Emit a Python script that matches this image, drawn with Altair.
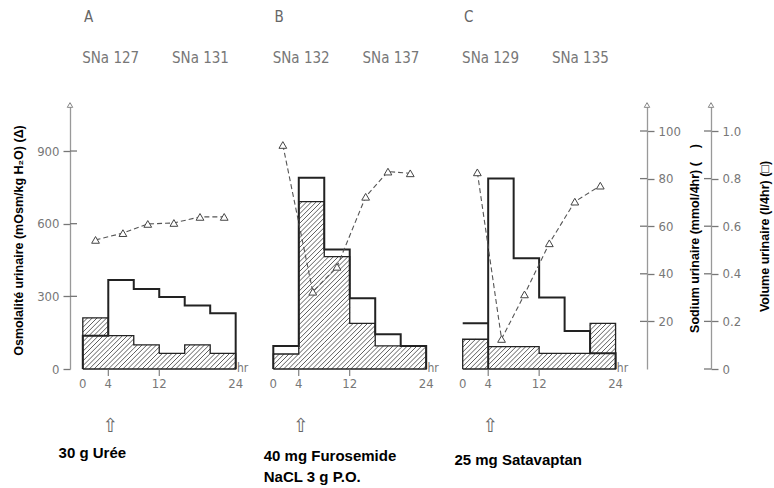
import altair as alt
import pandas as pd

# ---------------- data ----------------
panel_names = ["A", "B", "C"]
interval_start = [0, 4, 8, 12, 16, 20]          # 4-hour collection periods (hr)
x_tick_values = [0, 4, 12, 24]

# urine volume (l/4hr)  -> open outline
vol_A = [0.14, 0.374, 0.336, 0.302, 0.267, 0.234]
vol_B = [0.097, 0.804, 0.502, 0.297, 0.146, 0.097]
vol_C = [0.192, 0.80, 0.465, 0.30, 0.16, 0.066]

# urine sodium (mmol/4hr) -> hatched area
na_A = [21.5, 14.0, 10.1, 6.6, 10.1, 6.6]
na_B = [6.3, 70.3, 47.2, 19.2, 9.7, 9.7]
na_C = [12.5, 9.4, 9.4, 6.6, 6.6, 19.2]

# urine osmolality (mOsm/kg H2O) -> triangles
osm_hr_A = [2.0, 6.3, 10.2, 14.3, 18.4, 22.2]
osm_A = [533, 561, 599, 603, 628, 628]
osm_hr_B = [1.5, 6.2, 10.0, 14.5, 18.0, 21.5]
osm_B = [925, 319, 422, 711, 815, 808]
osm_hr_C = [2.3, 6.1, 9.7, 13.6, 17.6, 21.6]
osm_C = [812, 124, 308, 519, 691, 757]

sna_labels = [["SNa 127", "SNa 131"], ["SNa 132", "SNa 137"], ["SNa 129", "SNa 135"]]
drug_labels = [["30 g Urée"], ["40 mg Furosemide", "NaCL 3 g P.O."], ["25 mg Satavaptan"]]

osm_ticks = [0, 300, 600, 900]
na_ticks = [20, 40, 60, 80, 100]
vol_ticks = [0, 0.2, 0.4, 0.6, 0.8, 1.0]

# ---------------- layout constants ----------------
W, H = 641, 266
PAD = {"left": 70, "top": 103, "right": 63, "bottom": 119}
PX_HR = 6.37                      # px per hour
PX_VOL = 238.0                    # px per l/4hr
PX_NA = PX_VOL / 100.0            # px per mmol/4hr
PX_OSM = 0.2422                   # px per mOsm
XMIN = (70 - 82.8) / PX_HR
XMAX = XMIN + W / PX_HR
X_NA_AXIS = (647 - 82.8) / PX_HR
TICK_IN = 7 / PX_HR
panel_offset = [0.0, (273.3 - 82.8) / PX_HR, (462.7 - 82.8) / PX_HR]
vol_closed_left = [True, True, False]
VOL_DOM = [0, H / PX_VOL]
NA_DOM = [0, H / PX_NA]
OSM_DOM = [0, H / PX_OSM]

NARROW = "Liberation Sans Narrow, Arial Narrow, DejaVu Sans Condensed, sans-serif"
BOLD = "Liberation Sans, Arial, sans-serif"
TITLE_SIZE = 12.5

vols = [vol_A, vol_B, vol_C]
nas = [na_A, na_B, na_C]
osm_hrs = [osm_hr_A, osm_hr_B, osm_hr_C]
osms = [osm_A, osm_B, osm_C]

# ---------------- tables built from the arrays ----------------
def step_path(values, closed_left=True):
    pts = [(0, 0.0)] if closed_left else []
    for i, (s, v) in enumerate(zip(interval_start, values)):
        pts.append((s, v))
        pts.append((s + 4, v))
        if i == 0 and not closed_left:
            pts.append((s + 4, 0.0))   # first period drawn as a lone level line
    pts.append((24, 0.0))
    return pts

vol_rows, na_rows = [], []
for p, name in enumerate(panel_names):
    off = panel_offset[p]
    for k, (h, v) in enumerate(step_path(vols[p], vol_closed_left[p])):
        vol_rows.append({"panel": name, "ord": k, "x": off + h, "v": v})
    pts = step_path(nas[p])
    pts.append((0, 0.0))
    for k, (h, v) in enumerate(pts):
        na_rows.append({"panel": name, "ord": k, "x": off + h, "na": v})
vol_df = pd.DataFrame(vol_rows)
na_df = pd.DataFrame(na_rows)

# diagonal hatching of the sodium areas (clipped to each period's rectangle)
SP = 4.8
hatch_rows = []
for p, name in enumerate(panel_names):
    off = panel_offset[p]
    na = nas[p]
    c = -max(na) * PX_NA
    while c < 24 * PX_HR:
        for s, val in zip(interval_start, na):
            x0, x1, h = s * PX_HR, (s + 4) * PX_HR, val * PX_NA
            lo, hi = max(x0, c), min(x1, c + h)
            if hi > lo:
                hatch_rows.append({"x": off + lo / PX_HR, "x2": off + hi / PX_HR,
                                   "y": (lo - c) / PX_NA, "y2": (hi - c) / PX_NA})
        c += SP
hatch_df = pd.DataFrame(hatch_rows)

osm_rows = []
for p, name in enumerate(panel_names):
    for h, o in zip(osm_hrs[p], osms[p]):
        osm_rows.append({"panel": name, "x": panel_offset[p] + h, "osm": o})
osm_df = pd.DataFrame(osm_rows)

tick_rows = []
for p in range(3):
    for t in x_tick_values:
        tick_rows.append({"x": panel_offset[p] + t, "label": str(t)})
tick_df = pd.DataFrame(tick_rows)
minor_df = pd.DataFrame([{"x": panel_offset[p] + t} for p in range(3) for t in (4, 12)])
hr_df = pd.DataFrame([{"x": panel_offset[p] + 24.2, "label": "hr"} for p in range(3)])

letter_df = pd.DataFrame([{"x": panel_offset[p] + 0.2, "label": panel_names[p]} for p in range(3)])
sna_df = pd.DataFrame([{"x": panel_offset[p] + h, "label": sna_labels[p][i]}
                       for p in range(3) for i, h in enumerate((-0.1, 14.0))])
arrow_df = pd.DataFrame([{"x": panel_offset[p] + 4.3, "label": "⇧"} for p in range(3)])
drug_rows = []
drug_x = [-3.8, -1.5, -1.3]
drug_y = [[350], [353, 374], [357]]
for p in range(3):
    for i, lab in enumerate(drug_labels[p]):
        drug_rows.append({"x": panel_offset[p] + drug_x[p], "label": lab, "py": drug_y[p][i]})
drug_df = pd.DataFrame(drug_rows)

axis_top_df = pd.DataFrame({"x": [XMIN, X_NA_AXIS, XMAX]})
osm_tick_df = pd.DataFrame({"x": XMIN, "x2": XMIN + TICK_IN, "y": [t for t in osm_ticks if t > 0]})
na_tick_df = pd.DataFrame({"x": X_NA_AXIS - TICK_IN, "x2": X_NA_AXIS, "y": na_ticks})
vol_tick_df = pd.DataFrame({"x": XMAX - TICK_IN, "x2": XMAX, "y": vol_ticks})

# ---------------- encodings ----------------
xs = alt.Scale(domain=[XMIN, XMAX], nice=False, zero=False)
X = alt.X("x:Q", scale=xs, axis=None)

def axis(orient, values, title, title_x, title_y, offset=0, label_expr=None):
    kw = dict(orient=orient, offset=offset, values=values, tickSize=7,
              tickColor="#777", tickWidth=1.3, domainColor="#999", domainWidth=1.3,
              labelColor="#777", labelFont=NARROW, labelFontSize=13,
              labelPadding=4, grid=False, title=title, titleFont=BOLD,
              titleFontSize=TITLE_SIZE, titleFontWeight="bold", titleColor="black",
              titleAngle=270, titleX=title_x, titleY=title_y, titleAlign="center",
              titleBaseline="middle")
    if label_expr:
        kw["labelExpr"] = label_expr
    return alt.Axis(**kw)

hatch = alt.Chart(hatch_df).mark_rule(color="#333", strokeWidth=0.8).encode(
    x=X, x2="x2:Q",
    y=alt.Y("y:Q", scale=alt.Scale(domain=NA_DOM, nice=False), axis=None),
    y2="y2:Q",
)

na_line = alt.Chart(na_df).mark_line(color="#222", strokeWidth=1.3).encode(
    x=X,
    y=alt.Y("na:Q", scale=alt.Scale(domain=NA_DOM, nice=False),
            axis=axis("right", na_ticks, "Sodium urinaire (mmol/4hr) (\u00a0\u00a0\u00a0\u00a0)",
                      47, 135, offset=-64)),
    detail="panel:N", order="ord:Q",
)

vol_line = alt.Chart(vol_df).mark_line(color="#222", strokeWidth=2).encode(
    x=X,
    y=alt.Y("v:Q", scale=alt.Scale(domain=VOL_DOM, nice=False),
            axis=axis("right", vol_ticks, "Volume urinaire (l/4hr) (□)", 53, 133,
                      label_expr="datum.value == 0 ? '0' : format(datum.value, '.1f')")),
    detail="panel:N", order="ord:Q",
)

osm_line = alt.Chart(osm_df).mark_line(color="#555", strokeWidth=1.1, strokeDash=[5, 3]).encode(
    x=X,
    y=alt.Y("osm:Q", scale=alt.Scale(domain=OSM_DOM, nice=False),
            axis=axis("left", osm_ticks, "Osmolalité urinaire (mOsm/kg H₂O) (Δ)", -52, 137)),
    detail="panel:N",
)

osm_pts = alt.Chart(osm_df).mark_point(shape="triangle-up", filled=True, fill="white",
                                       stroke="#444", strokeWidth=1, size=60, opacity=1).encode(
    x=X,
    y=alt.Y("osm:Q", scale=alt.Scale(domain=OSM_DOM, nice=False), axis=None),
)

def inner_ticks(df, dom):
    return alt.Chart(df).mark_rule(color="#777", strokeWidth=1.3).encode(
        x=X, x2="x2:Q",
        y=alt.Y("y:Q", scale=alt.Scale(domain=dom, nice=False), axis=None))

osm_in = inner_ticks(osm_tick_df, OSM_DOM)
na_in = inner_ticks(na_tick_df, NA_DOM)
vol_in = inner_ticks(vol_tick_df, VOL_DOM)

axis_tops = alt.Chart(axis_top_df).mark_point(shape="triangle-up", filled=True, fill="white",
                                              stroke="#888", strokeWidth=1, size=30, opacity=1).encode(
    x=X, y=alt.value(2),
)

minor = alt.Chart(minor_df).mark_rule(color="#666", strokeWidth=1).encode(
    x=X, y=alt.value(H), y2=alt.value(H + 7),
)

def text_layer(df, y, size, color, font, weight="normal", align="center"):
    return alt.Chart(df).mark_text(fontSize=size, color=color, font=font, fontWeight=weight,
                                   align=align, baseline="middle").encode(
        x=X, y=alt.value(y), text="label:N")

ticks_txt = text_layer(tick_df, 281, 13, "#777", NARROW)
hr_txt = text_layer(hr_df, 265, 12, "#777", NARROW, align="left")
letters = text_layer(letter_df, -86, 15, "#666", NARROW, align="left")
sna_txt = text_layer(sna_df, -45, 15, "#777", NARROW, align="left")
arrows = text_layer(arrow_df, 323, 19, "#666", "DejaVu Sans")
drugs = alt.Chart(drug_df).mark_text(fontSize=15, color="black", font=BOLD, fontWeight="bold",
                                     align="left", baseline="middle").encode(
    x=X, y=alt.Y("py:Q", scale=None), text="label:N")

chart = alt.layer(
    hatch, na_line, vol_line, osm_line, osm_pts, osm_in, na_in, vol_in, axis_tops, minor,
    ticks_txt, hr_txt, letters, sna_txt, arrows, drugs,
).resolve_scale(y="independent").properties(
    width=W, height=H, padding=PAD, autosize="none", background="white",
).configure_view(stroke=None)

chart.save("out.html", embed_options={"renderer": "svg", "actions": False})
